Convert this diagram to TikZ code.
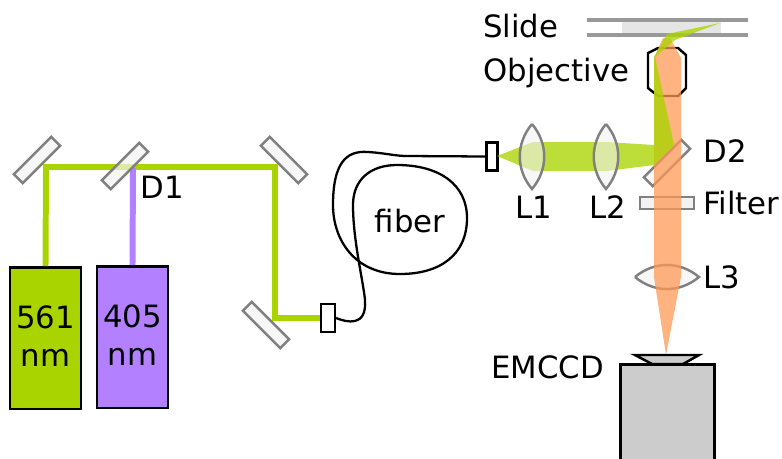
\documentclass[tikz,border=0pt]{standalone}
\usepackage{fontspec}
\setmainfont{DejaVu Sans}
\definecolor{limeb}{HTML}{AAD400}
\definecolor{violetb}{HTML}{B380FF}
\definecolor{orangeb}{HTML}{FF9955}
\definecolor{glassb}{HTML}{F2F2F2}
\tikzset{
  lbl/.style={anchor=base west,inner sep=0pt,font=\fontsize{17.5}{21.6}\selectfont},
  laser/.style={draw,line width=1.4pt,minimum width=1.41cm,minimum height=2.83cm,inner sep=0pt,align=center,text depth=2.3pt,font=\fontsize{17.5}{21.6}\selectfont},
  mirror/.style={draw=gray,line width=1.4pt,fill=glassb,fill opacity=0.7,minimum width=1.06cm,minimum height=0.25cm,inner sep=0pt},
  coupler/.style={draw,line width=1.2pt,fill=white,inner sep=0pt},
  lens/.style={draw=gray,line width=1.4pt,fill=glassb,fill opacity=0.6},
  beam/.style={line width=3.4pt}
}
\begin{document}
\begin{tikzpicture}[x=0.02cm,y=-0.02cm]
    \useasboundingbox (0,0) rectangle (782,458);
    \coordinate (cA) at (46,167);
    \coordinate (cB) at (275,167);
    \coordinate (cC) at (275,318);
    \coordinate (cD) at (133,168);
    \node[laser,fill=limeb] (L561) at (45.5,338) {561\\nm};
    \node[laser,fill=violetb] (L405) at (132.5,337) {405\\nm};
    \node[coupler,minimum width=0.28cm,minimum height=0.56cm] (fibin) at (328,318) {};
    \node[coupler,minimum width=0.22cm,minimum height=0.56cm] (fibout) at (492,156.5) {};
    \draw[beam,limeb] (L561.north) -- (cA) -- (cB) -- (cC) -- (fibin.west);
    \draw[beam,violetb] (L405.north) -- (cD);
    \node[mirror,rotate=45] (M1) at (37,160) {};
    \node[mirror,rotate=45] (D1) at (125,166) {};
    \node[mirror,rotate=-45] (M2) at (284,160) {};
    \node[mirror,rotate=-45] (M3) at (266,325) {};
    \draw[line width=1.3pt] (fibin.east) .. controls (346,322) and (367,328) .. (365,300)
      .. controls (363,280) and (353,240) .. (353,205)
      .. controls (353,180) and (370,165) .. (397,165)
      .. controls (440,165) and (467,185) .. (467,218)
      .. controls (467,255) and (440,274) .. (400,274)
      .. controls (355,274) and (333,240) .. (333,205)
      .. controls (333,165) and (345,150) .. (368,152)
      .. controls (385,153) and (395,156) .. (407,156) -- (fibout.west);
    \node[anchor=center,inner sep=0pt,font=\fontsize{17.5}{21.6}\selectfont] (fib) at (410,221.5) {f{}iber};
    % slide
    \fill[gray!20] (622,20) rectangle (721,35);
    \draw[line width=2.2pt,gray!80] (587,20) -- (748,20);
    \draw[line width=2.2pt,gray!80] (587,35) -- (748,35);
    % objective and detection path
    \draw[line width=1.4pt] (648,53) -- (658,48) -- (678,48) -- (686,55) -- (686,88) -- (678,96) -- (658,96) -- (648,88) -- cycle;
    \node[mirror,rotate=45,fill opacity=0.6] (D2) at (667,163) {};
    \node[draw=gray,line width=1.4pt,fill=glassb,minimum width=1.07cm,minimum height=0.25cm,inner sep=0pt] (filt) at (667,203) {};
    \draw[lens] (635,277) to[bend left=40] (699,277) to[bend left=40] (635,277);
    \fill[orangeb,opacity=0.75] (654,58) -- (663,38) -- (670,38) -- (681,58) -- (681,277) -- (666,355) -- (654,277) -- cycle;
    \fill[limeb,opacity=0.78] (497,156) -- (533,142) -- (607,142) -- (654,145) -- (654,57) -- (667,34) -- (720,23) -- (675,40) -- (655,57) -- (674,145) -- (654,165) -- (607,171) -- (533,171) -- cycle;
    \draw[lens] (532,124) to[bend left=40] (532,189) to[bend left=40] (532,124);
    \draw[lens] (606,124) to[bend left=40] (606,189) to[bend left=40] (606,124);
    % camera
    \draw[line width=1.4pt,fill=black!20] (635,355) -- (699,355) -- (683,364) -- (652,364) -- cycle;
    \node[draw,line width=1.4pt,fill=black!20,minimum width=1.88cm,minimum height=2.3cm,inner sep=0pt] (cam) at (667.5,422) {};
    \node[lbl] (tslide) at (483,37.5) {Slide};
    \node[lbl] (tobj) at (483,81.5) {Objective};
    \node[lbl] (tD1) at (140,198) {D1};
    \node[lbl] (tD2) at (703,162.5) {D2};
    \node[lbl] (tL1) at (515,218) {L1};
    \node[lbl] (tL2) at (589,218) {L2};
    \node[lbl] (tfilt) at (703,214.5) {Filter};
    \node[lbl] (tL3) at (703,288.5) {L3};
    \node[lbl] (tcam) at (491,378) {EMCCD};
  \end{tikzpicture}
\end{document}
